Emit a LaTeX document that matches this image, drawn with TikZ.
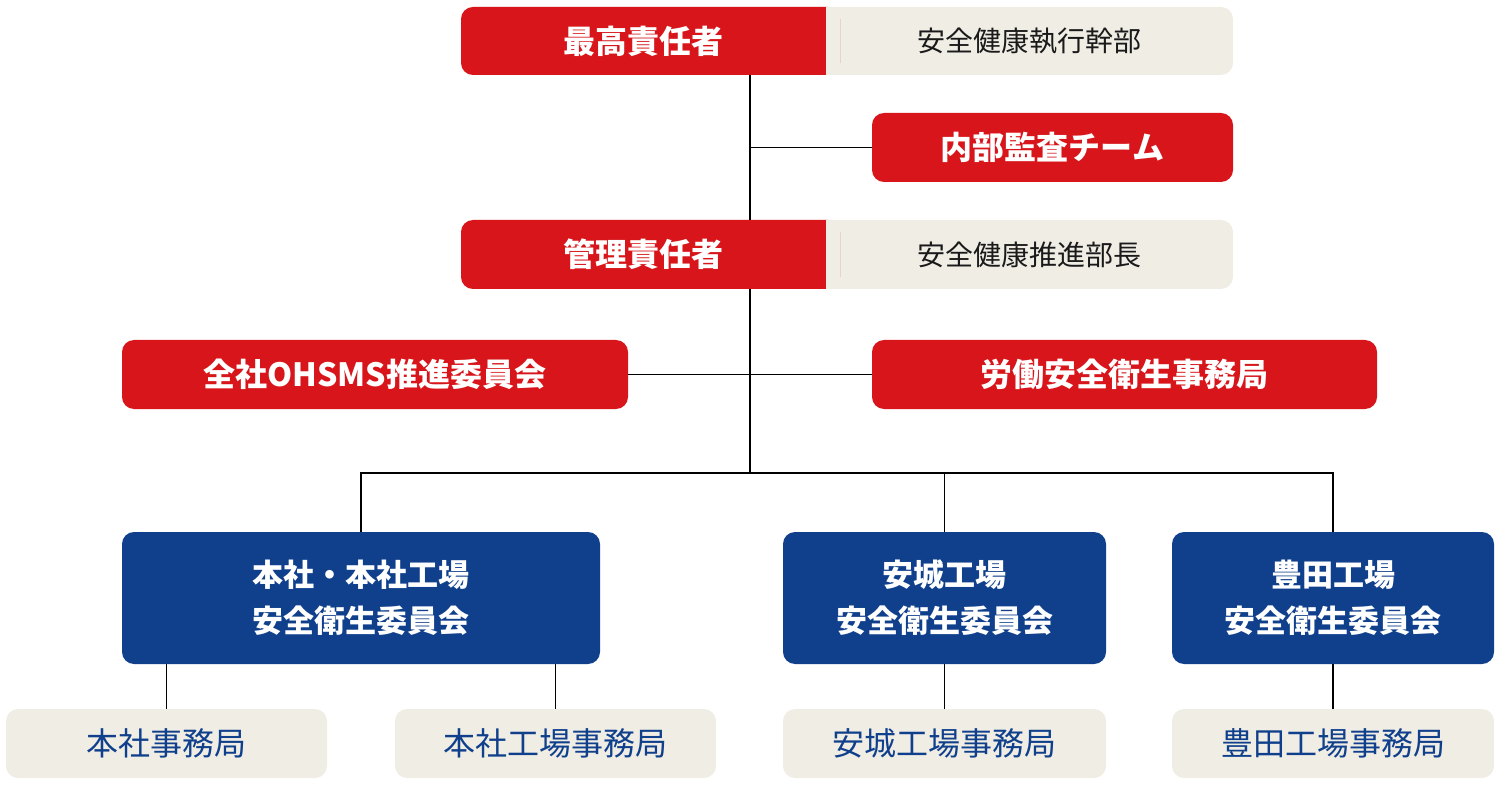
\documentclass[tikz,border=0pt]{standalone}
\usepackage{fontspec}
\setmainfont{Noto Sans CJK JP}
\definecolor{cred}{HTML}{D7151A}
\definecolor{cblue}{HTML}{10408C}
\definecolor{cbeige}{HTML}{F0EDE5}
\definecolor{ctext}{HTML}{1A1A1A}
\begin{document}
\begin{tikzpicture}[x=1pt,y=-1pt,
  base/.style={rounded corners=12pt, inner sep=0pt, align=center},
  redbox/.style={base, fill=cred, text=white, font=\bfseries\fontsize{32}{40}\selectfont},
  bluebox/.style={base, fill=cblue, text=white, font=\bfseries\fontsize{31}{46}\selectfont},
  topbeige/.style={base, fill=cbeige, text=ctext, font=\fontsize{28}{34}\selectfont},
  botbeige/.style={base, fill=cbeige, text=cblue, font=\fontsize{32}{40}\selectfont},
  conn/.style={draw=black, line width=1.2pt}]
\useasboundingbox (0,0) rectangle (1500,786);
% top
\node[topbeige, minimum width=772, minimum height=68] (topbg) at (847,41) {};
\node[topbeige, minimum width=407, minimum height=68, fill=none] (topr) at (1029.5,41) {安全健康執行幹部};
\fill[cred, rounded corners=12pt] (461,7) rectangle (840,75);
\fill[cred] (800,7) rectangle (826,75);
\fill[cbeige] (826,7) rectangle (840,75);
\node[redbox, fill=none, minimum width=365, minimum height=68] (top) at (643.5,41) {最高責任者};
% audit
\node[redbox, minimum width=361, minimum height=69] (audit) at (1052.5,147.5) {内部監査チーム};
% manager
\node[topbeige, minimum width=772, minimum height=69] (mgbg) at (847,254.5) {};
\node[topbeige, minimum width=407, minimum height=69, fill=none] (mgr) at (1029.5,254.5) {安全健康推進部長};
\fill[cred, rounded corners=12pt] (461,220) rectangle (840,289);
\fill[cred] (800,220) rectangle (826,289);
\fill[cbeige] (826,220) rectangle (840,289);
\node[redbox, fill=none, minimum width=365, minimum height=69] (mg) at (643.5,254.5) {管理責任者};
% middle
\node[redbox, minimum width=506, minimum height=69] (ohs) at (375,374.5) {全社OHSMS推進委員会};
\node[redbox, minimum width=505, minimum height=69] (office) at (1124.5,374.5) {労働安全衛生事務局};
% blue
\node[bluebox, minimum width=478, minimum height=132] (b1) at (361,598) {本社・本社工場\\安全衛生委員会};
\node[bluebox, minimum width=323, minimum height=132] (b2) at (944.5,598) {安城工場\\安全衛生委員会};
\node[bluebox, minimum width=322, minimum height=132] (b3) at (1333,598) {豊田工場\\安全衛生委員会};
% bottom
\node[botbeige, minimum width=321, minimum height=69] (s1) at (166.5,743.5) {本社事務局};
\node[botbeige, minimum width=321, minimum height=69] (s2) at (555.5,743.5) {本社工場事務局};
\node[botbeige, minimum width=323, minimum height=69] (s3) at (944.5,743.5) {安城工場事務局};
\node[botbeige, minimum width=322, minimum height=69] (s4) at (1333,743.5) {豊田工場事務局};
% connectors
\coordinate (j1) at (750,75);
\coordinate (j2) at (750,220);
\coordinate (j3) at (750,289);
\coordinate (j4) at (750,473);
\draw[conn] (j1) -- (j2);
\draw[conn] (750,147.5) -- (audit.west);
\draw[conn] (j3) -- (j4);
\draw[conn] (ohs.east) -- (office.west);
\draw[conn] (b1.north) -- (b1.north |- j4) -- (b3.north |- j4) -- (b3.north);
\draw[conn] (b2.north |- j4) -- (b2.north);
\draw[conn] (s1.north |- b1.south) -- (s1.north);
\draw[conn] (s2.north |- b1.south) -- (s2.north);
\draw[conn] (b2.south) -- (s3.north);
\draw[conn] (b3.south) -- (s4.north);
\end{tikzpicture}
\end{document}
